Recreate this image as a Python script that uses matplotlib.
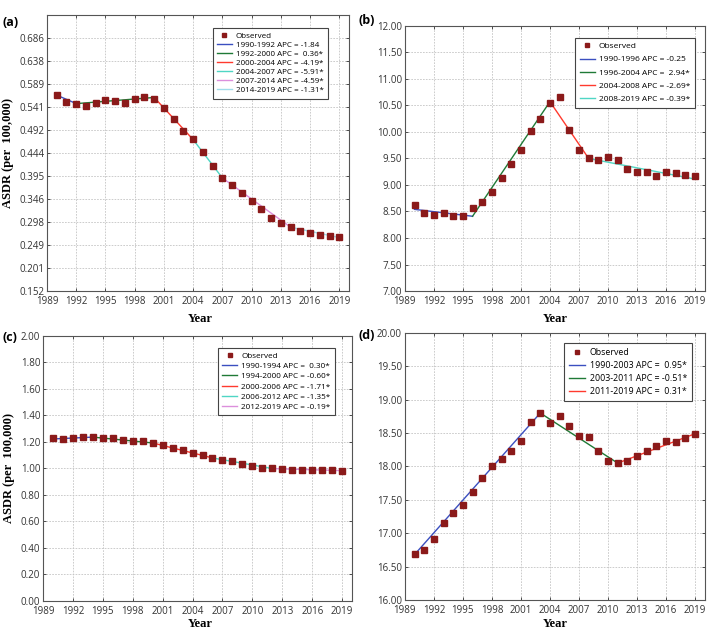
import matplotlib
matplotlib.use("Agg")
import matplotlib.pyplot as plt

plt.rcParams['font.family'] = ['Open Sans', 'DejaVu Sans']

years = list(range(1990, 2020))
x_ticks = list(range(1989, 2020, 3))

# (a)
a_obs = [0.567, 0.552, 0.547, 0.542, 0.550, 0.555, 0.554, 0.549, 0.557, 0.562,
         0.557, 0.539, 0.516, 0.490, 0.473, 0.446, 0.417, 0.391, 0.376, 0.360,
         0.343, 0.325, 0.307, 0.295, 0.287, 0.279, 0.275, 0.270, 0.269, 0.266]
a_knots = [1990, 1992, 2000, 2004, 2007, 2014, 2019]
a_fit = [0.566, 0.548, 0.561, 0.472, 0.391, 0.287, 0.265]
a_labels = ["1990-1992 APC = -1.84", "1992-2000 APC =  0.36*",
            "2000-2004 APC = -4.19*", "2004-2007 APC = -5.91*",
            "2007-2014 APC = -4.59*", "2014-2019 APC = -1.31*"]
a_yticks = [0.152, 0.201, 0.249, 0.298, 0.346, 0.395, 0.444, 0.492, 0.541,
            0.589, 0.638, 0.686]
a_ylim = (0.152, 0.735)

# (b)
b_obs = [8.62, 8.47, 8.43, 8.48, 8.42, 8.42, 8.57, 8.68, 8.86, 9.14,
         9.40, 9.66, 10.02, 10.25, 10.55, 10.65, 10.03, 9.65, 9.50, 9.48,
         9.53, 9.47, 9.31, 9.24, 9.24, 9.17, 9.25, 9.23, 9.19, 9.17]
b_knots = [1990, 1996, 2004, 2008, 2019]
b_fit = [8.54, 8.41, 10.57, 9.50, 9.11]
b_labels = ["1990-1996 APC = -0.25", "1996-2004 APC =  2.94*",
            "2004-2008 APC = -2.69*", "2008-2019 APC = -0.39*"]
b_yticks = [7.0, 7.5, 8.0, 8.5, 9.0, 9.5, 10.0, 10.5, 11.0, 11.5, 12.0]
b_ylim = (7.0, 12.0)

# (c)
c_obs = [1.229, 1.224, 1.230, 1.236, 1.236, 1.233, 1.226, 1.216, 1.208, 1.203,
         1.191, 1.173, 1.156, 1.138, 1.113, 1.098, 1.078, 1.060, 1.053, 1.035,
         1.020, 1.005, 1.000, 0.992, 0.987, 0.987, 0.990, 0.987, 0.985, 0.980]
c_knots = [1990, 1994, 2000, 2006, 2012, 2019]
c_fit = [1.222, 1.236, 1.192, 1.079, 0.999, 0.983]
c_labels = ["1990-1994 APC =  0.30*", "1994-2000 APC = -0.60*",
            "2000-2006 APC = -1.71*", "2006-2012 APC = -1.35*",
            "2012-2019 APC = -0.19*"]
c_yticks = [0.0, 0.2, 0.4, 0.6, 0.8, 1.0, 1.2, 1.4, 1.6, 1.8, 2.0]
c_ylim = (0.0, 2.0)

# (d)
d_obs = [16.69, 16.755, 16.915, 17.16, 17.305, 17.43, 17.61, 17.83, 18.00, 18.11,
         18.23, 18.385, 18.67, 18.795, 18.65, 18.755, 18.61, 18.46, 18.435, 18.23,
         18.08, 18.045, 18.08, 18.15, 18.235, 18.31, 18.385, 18.37, 18.425, 18.49]
d_knots = [1990, 2003, 2011, 2019]
d_fit = [16.68, 18.80, 18.05, 18.49]
d_labels = ["1990-2003 APC =  0.95*", "2003-2011 APC = -0.51*",
            "2011-2019 APC =  0.31*"]
d_yticks = [16.0, 16.5, 17.0, 17.5, 18.0, 18.5, 19.0, 19.5, 20.0]
d_ylim = (16.0, 20.0)

seg_colors = ['#3b4fc0', '#1f7a36', '#ff3a2e', '#4fd6c4', '#dc8fdc', '#9fdcea']
obs_color = '#8b1a1a'
serif = ['Liberation Serif', 'DejaVu Serif']

fig = plt.figure(figsize=(7.09, 6.30), dpi=100)

# tag, rect, data..., ylabel?, tag pos, "Year" pos, legend anchor, legend font, row spacing
panels = [
    ("(a)", [0.0663, 0.538, 0.426, 0.438], a_obs, a_knots, a_fit, a_labels,
     a_yticks, a_ylim, "%.3f", True, (0.003, 0.975), (0.282, 0.484),
     (0.93, 0.953), 5.8, 0.17),
    ("(b)", [0.571, 0.538, 0.423, 0.421], b_obs, b_knots, b_fit, b_labels,
     b_yticks, b_ylim, "%.2f", False, (0.505, 0.977), (0.783, 0.484),
     (0.967, 0.955), 6.0, 0.65),
    ("(c)", [0.0606, 0.046, 0.436, 0.421], c_obs, c_knots, c_fit, c_labels,
     c_yticks, c_ylim, "%.2f", True, (0.003, 0.475), (0.282, 0.0),
     (0.945, 0.955), 5.9, 0.3),
    ("(d)", [0.571, 0.0476, 0.423, 0.424], d_obs, d_knots, d_fit, d_labels,
     d_yticks, d_ylim, "%.2f", False, (0.505, 0.478), (0.783, 0.0),
     (0.957, 0.963), 6.4, 0.45),
]

for (tag, rect, obs, knots, fit, labels, yticks, ylim, fmt, ylab,
     tagpos, yearpos, anchor, lfs, lsp) in panels:
    ax = fig.add_axes(rect)
    handles = []
    h_obs, = ax.plot(years, obs, ls='none', marker='s', ms=3.9,
                     mfc=obs_color, mec=obs_color, zorder=3, label='Observed')
    handles.append(h_obs)
    for i in range(len(knots) - 1):
        h, = ax.plot(knots[i:i + 2], fit[i:i + 2], color=seg_colors[i],
                     lw=1.0, zorder=2, label=labels[i])
        handles.append(h)
    ax.set_xlim(1989, 2020)
    ax.set_ylim(*ylim)
    ax.set_xticks(x_ticks)
    ax.set_yticks(yticks)
    ax.set_yticklabels([fmt % v for v in yticks])
    ax.tick_params(labelsize=7, direction='in', length=2.5, width=0.6,
                   top=True, right=True, colors='#333333')
    ax.tick_params(axis='x', pad=3.5)
    ax.tick_params(axis='y', pad=2)
    ax.grid(True, color='#c4c4c4', lw=0.6, ls=(0, (2, 1.5)))
    for s in ax.spines.values():
        s.set_color('#555555')
        s.set_linewidth(0.8)
    leg = ax.legend(handles=handles, loc='upper right',
                    bbox_to_anchor=anchor, fontsize=lfs,
                    frameon=True, fancybox=False, edgecolor='#444444',
                    framealpha=1, handlelength=1.8, handletextpad=0.5,
                    labelspacing=lsp, borderpad=0.55, borderaxespad=0,
                    markerscale=0.65, numpoints=1)
    leg.get_frame().set_linewidth(0.8)
    fig.text(tagpos[0], tagpos[1], tag, fontsize=9, fontweight='bold',
             ha='left', va='top')
    fig.text(yearpos[0], yearpos[1], "Year", fontsize=9, fontweight='bold',
             family=serif, ha='center', va='bottom')
    if ylab:
        ax.set_ylabel("ASDR (per  100,000)", fontsize=9, fontweight='bold',
                      family=serif, labelpad=4)

fig.savefig("out.png", dpi=100)
